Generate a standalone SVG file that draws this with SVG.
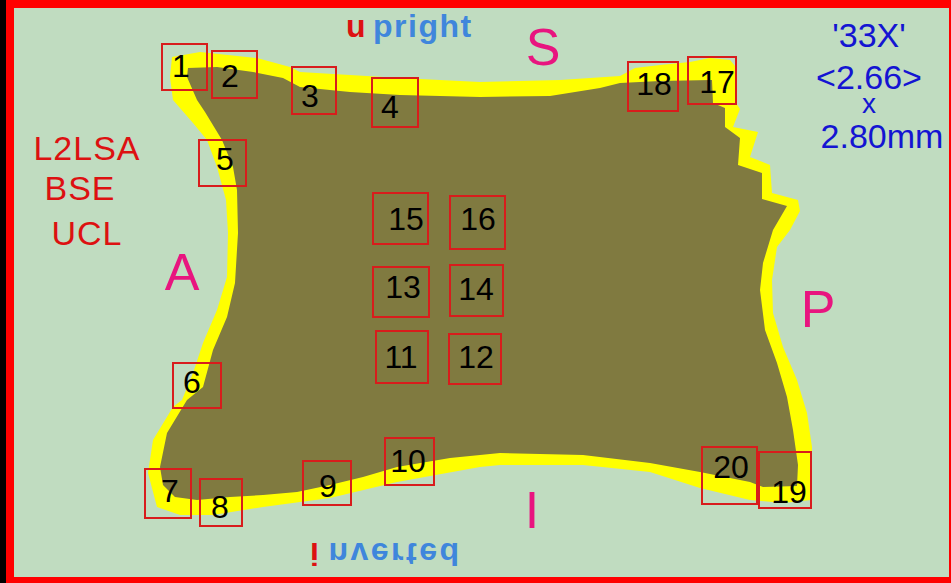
<svg xmlns="http://www.w3.org/2000/svg" width="951" height="583" viewBox="0 0 951 583">
<style>
.box{fill:none;stroke:#d81c1c;stroke-width:2}
.n{font-family:"Liberation Sans",Arial,sans-serif;font-size:32px;fill:#000;text-anchor:middle}
.lab{font-family:"Liberation Sans",Arial,sans-serif;font-size:34px;fill:#dd1111;text-anchor:middle;letter-spacing:1px}
.dir{font-family:"Liberation Sans",Arial,sans-serif;font-size:52px;fill:#e8157f;text-anchor:middle}
.mag{font-family:"Liberation Sans",Arial,sans-serif;font-size:34px;fill:#1414d2;text-anchor:middle}
.ori{font-family:"Liberation Sans",Arial,sans-serif;font-size:32px;font-weight:bold;letter-spacing:1.5px}
</style>
<rect x="0" y="0" width="951" height="583" fill="#ff0000"/>
<rect x="0" y="0" width="6" height="583" fill="#000"/>
<rect x="14" y="8" width="935" height="569" fill="#c0dcc0"/>

<g id="specimen">
<path fill="#ffff00" d="M172,57 L200,52 L257,58 L290,67 L300,72 L350,75 L400,78 L480,82 L560,80 L620,76 L635,68 L660,65 L690,62 L710,58 L730,60 L735,66 L736,103 L740,109 L733,127 L758,132 L750,157 L770,165 L772,193 L798,200 L800,211 L790,230 L777,247 L772,280 L773,313 L783,347 L797,380 L807,413 L812,447 L811,500 L783,503 L750,500 L700,488 L650,472 L583,465 L500,465 L480,467 L397,482 L330,498 L263,507 L213,515 L180,515 L157,507 L148,473 L153,440 L173,407 L182,400 L193,373 L203,343 L217,310 L227,277 L228,233 L226,200 L217,167 L207,140 L193,123 L173,100 L170,77 Z"/>
<path fill="#807a40" d="M188,68 L217,67 L253,72 L283,78 L300,87 L350,92 L400,95 L480,97 L550,96 L600,88 L620,83 L660,81 L712,80 L713,103 L725,108 L725,127 L740,138 L738,165 L762,173 L762,199 L787,206 L773,230 L763,263 L760,290 L765,330 L777,363 L787,397 L793,430 L798,465 L797,486 L763,487 L750,482 L700,472 L650,463 L583,455 L500,453 L450,458 L397,467 L363,477 L330,485 L297,492 L263,495 L230,497 L197,500 L175,497 L163,485 L160,467 L167,433 L187,400 L203,387 L213,350 L227,317 L235,283 L238,233 L237,190 L233,167 L222,140 L205,112 L197,100 L187,77 Z"/>
</g>

<g id="labels">
<text class="lab" x="87" y="160">L2LSA</text>
<text class="lab" x="80" y="200">BSE</text>
<text class="lab" x="87" y="245">UCL</text>
<text class="dir" x="543" y="65">S</text>
<text class="dir" x="182" y="290">A</text>
<text class="dir" x="818" y="327">P</text>
<text class="dir" x="532" y="528">I</text>
<text class="mag" x="869" y="47">'33X'</text>
<text class="mag" x="869" y="89">&lt;2.66&gt;</text>
<text class="mag" x="869" y="113" style="font-size:28px">x</text>
<text class="mag" x="882" y="148">2.80mm</text>
<text class="ori" x="346" y="37"><tspan fill="#dd1111">u</tspan><tspan fill="#3f86dc" dx="6">pright</tspan></text>
<text class="ori" transform="translate(0,543) scale(1,-1)" x="310" y="0" style="letter-spacing:2.5px"><tspan fill="#dd1111">i</tspan><tspan fill="#3f86dc" dx="7">nverted</tspan></text>
</g>

<g id="connectors"></g>

<g id="node1"><rect class="box" x="162" y="44" width="45" height="46"/><text class="n" x="181" y="77">1</text></g>
<g id="node2"><rect class="box" x="212" y="51" width="45" height="47"/><text class="n" x="230" y="87">2</text></g>
<g id="node3"><rect class="box" x="292" y="67" width="44" height="47"/><text class="n" x="310" y="107">3</text></g>
<g id="node4"><rect class="box" x="372" y="78" width="46" height="49"/><text class="n" x="390" y="118">4</text></g>
<g id="node5"><rect class="box" x="199" y="140" width="47" height="46"/><text class="n" x="225" y="170">5</text></g>
<g id="node6"><rect class="box" x="173" y="363" width="48" height="45"/><text class="n" x="192" y="393">6</text></g>
<g id="node7"><rect class="box" x="145" y="469" width="46" height="49"/><text class="n" x="170" y="502">7</text></g>
<g id="node8"><rect class="box" x="200" y="479" width="42" height="47"/><text class="n" x="220" y="518">8</text></g>
<g id="node9"><rect class="box" x="303" y="461" width="48" height="44"/><text class="n" x="328" y="497">9</text></g>
<g id="node10"><rect class="box" x="385" y="438" width="49" height="47"/><text class="n" x="408" y="472">10</text></g>
<g id="node11"><rect class="box" x="376" y="331" width="52" height="52"/><text class="n" x="401" y="368">11</text></g>
<g id="node12"><rect class="box" x="449" y="334" width="52" height="50"/><text class="n" x="476" y="368">12</text></g>
<g id="node13"><rect class="box" x="373" y="267" width="56" height="50"/><text class="n" x="403" y="298">13</text></g>
<g id="node14"><rect class="box" x="450" y="265" width="53" height="51"/><text class="n" x="476" y="300">14</text></g>
<g id="node15"><rect class="box" x="373" y="193" width="55" height="51"/><text class="n" x="406" y="230">15</text></g>
<g id="node16"><rect class="box" x="450" y="196" width="55" height="53"/><text class="n" x="478" y="230">16</text></g>
<g id="node17"><rect class="box" x="688" y="57" width="48" height="47"/><text class="n" x="717" y="93">17</text></g>
<g id="node18"><rect class="box" x="628" y="62" width="50" height="49"/><text class="n" x="654" y="95">18</text></g>
<g id="node19"><rect class="box" x="759" y="452" width="52" height="56"/><text class="n" x="789" y="503">19</text></g>
<g id="node20"><rect class="box" x="702" y="447" width="55" height="57"/><text class="n" x="731" y="478">20</text></g>
</svg>
